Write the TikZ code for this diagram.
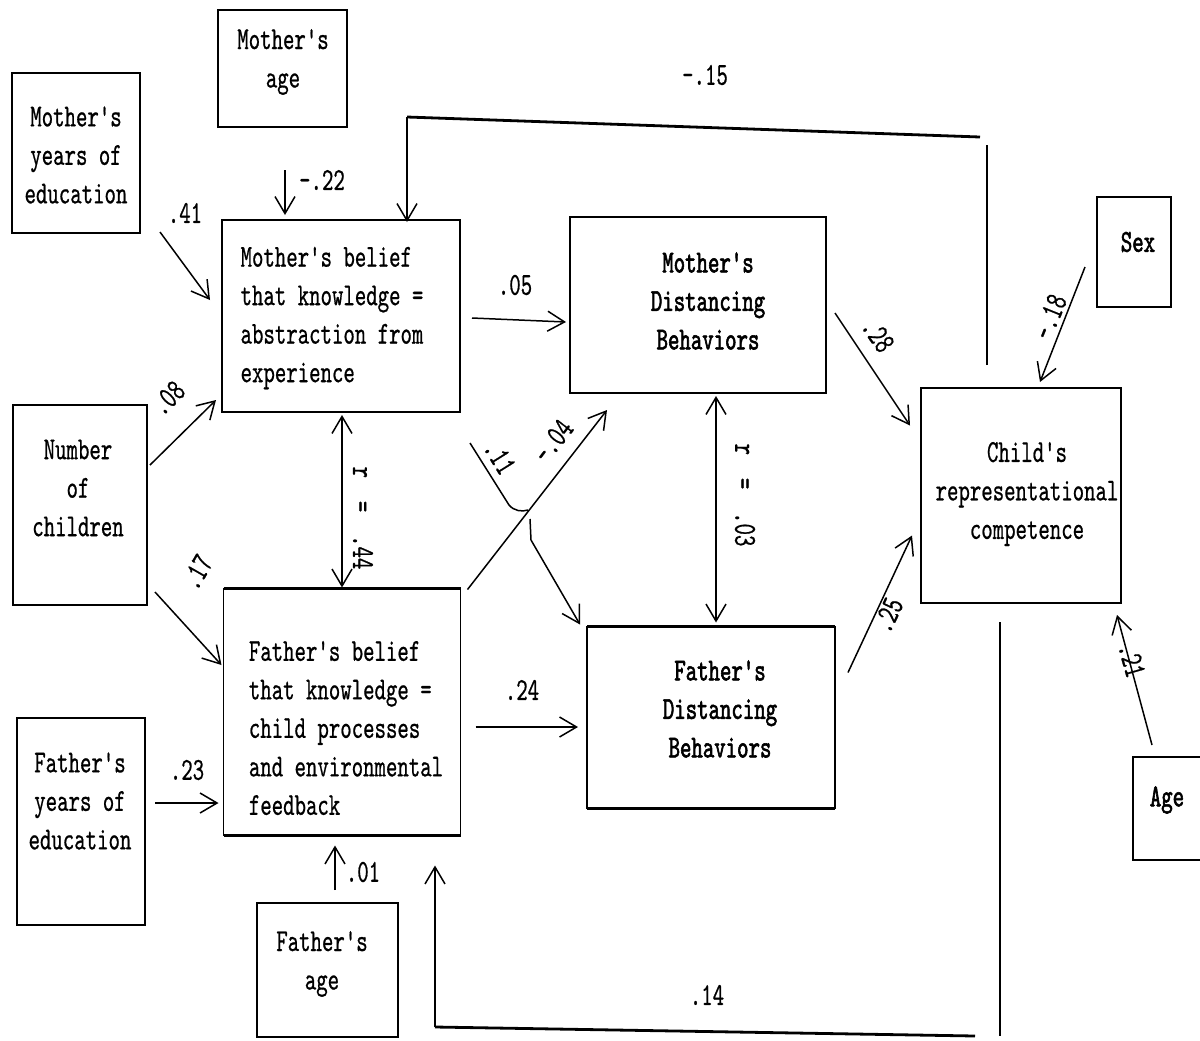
\documentclass[tikz,border=0pt]{standalone}
\usepackage{fontspec}
\newfontfamily\tw{lmmono10-regular.otf}[FakeStretch=0.68,FakeBold=0.6]
\newfontfamily\twb{lmmono10-regular.otf}[FakeStretch=0.68,FakeBold=1.8]
\usetikzlibrary{arrows.meta,calc}
\tikzset{
 box/.style={draw, line width=0.7pt, inner sep=0pt, outer sep=0pt},
 txt/.style={font=\tw\fontsize{16}{19.25}\selectfont, align=center, inner sep=0pt},
 txtb/.style={font=\twb\fontsize{16}{19.25}\selectfont, align=center, inner sep=0pt},
 lab/.style={font=\tw\fontsize{16}{19}\selectfont, inner sep=0pt},
 arr/.style={line width=0.75pt, -{Straight Barb[length=8.5pt,width=10pt]}},
 dbl/.style={line width=0.75pt, {Straight Barb[length=8.5pt,width=10pt]}-{Straight Barb[length=8.5pt,width=10pt]}},
 ln/.style={line width=0.75pt},
 thk/.style={line width=1.4pt},
}
\begin{document}
\begin{tikzpicture}[x=0.5pt,y=-0.5pt]
\fill[white] (0,0) rectangle (1200,1040);
\useasboundingbox (0,0) rectangle (1200,1040);
\clip (0,0) rectangle (1200,1040);
% boxes
\node[box,minimum width=64pt,minimum height=80pt] (medu) at (76,153) {};
\node[box,minimum width=64.5pt,minimum height=58.5pt] (mage) at (282.5,68.5) {};
\node[box,minimum width=119pt,minimum height=96pt] (mbel) at (341,316) {};
\node[box,minimum width=67pt,minimum height=100pt] (nch) at (80,505) {};
\node[box,minimum width=128pt,minimum height=88pt] (mdist) at (698,305) {};
\node[box,minimum width=118.5pt,minimum height=123.5pt] (fbel) at (342,712) {};
\node[box,minimum width=124pt,minimum height=91pt] (fdist) at (711,717.5) {};
\node[box,minimum width=64pt,minimum height=103.5pt] (fedu) at (81,821.5) {};
\node[box,minimum width=70.5pt,minimum height=67pt] (fage) at (327.5,970) {};
\node[box,minimum width=100pt,minimum height=107.5pt] (child) at (1021,495.5) {};
\node[box,minimum width=37pt,minimum height=55pt] (sex) at (1134,252) {};
\node[box,minimum width=41pt,minimum height=51.5pt] (age) at (1174,808.5) {};
\foreach \n in {medu,mage,mbel,nch,mdist,fbel,fdist,fedu,fage,child,sex,age}
  \draw[thk] (\n.north west) -- (\n.north east) (\n.south west) -- (\n.south east);
% texts
\node[txt] (medu-t) at (76,155) {Mother's\\years of\\education};
\node[txt] (mage-t) at (283,62) {Mother's\\age};
\node[txt,align=left] (mbel-t) at (332,318) {Mother's belief\\that knowledge =\\abstraction from\\experience};
\node[txt] (nch-t) at (78,488) {Number\\of\\children};
\node[txtb] (mdist-t) at (708,301) {Mother's\\Distancing\\Behaviors};
\node[txt,align=left] (fbel-t) at (346,728) {Father's belief\\that knowledge =\\child processes\\and environmental\\feedback};
\node[txtb] (fdist-t) at (720,709) {Father's\\Distancing\\Behaviors};
\node[txt] (fedu-t) at (80,801) {Father's\\years of\\education};
\node[txt] (fage-t) at (322,964) {Father's\\age};
\node[txt] (child-t) at (1027,494) {Child's\\representational\\competence};
\node[txtb] (sex-t) at (1138,242) {Sex};
\node[txtb] (age-t) at (1167,800) {Age};
% arrows
\draw[arr] ($(medu.south east)+(20,-1)$) -- ($(mbel.west)+(-12,-16)$);
\draw[arr] ($(mage.south)+(2.5,43)$) -- ($(mbel.north)+(-56,-5)$);
\draw[arr] ($(nch.east)+(3,-40)$) -- ($(mbel.south west)+(-6,-12)$);
\draw[arr] ($(nch.south east)+(8,-13)$) -- ($(fbel.west)+(-2,-47)$);
\draw[arr] ($(fedu.east)+(10,-18.5)$) -- ($(fbel.west)+(-5,91)$);
\draw[arr] ($(fage.north)+(7.5,-13)$) -- ($(fbel.south)+(-7,10)$);
\draw[dbl] ($(mbel.south)+(1,3)$) -- ($(fbel.north)+(0,-1)$);
\draw[arr] ($(mbel.east)+(12,2)$) -- ($(mdist.west)+(-4,17)$);
\coordinate (j0) at ($(mbel.south east)+(10,31)$);
\coordinate (j1) at (509,505);
\coordinate (j2) at (528,510);
\coordinate (j3) at (530,519);
\coordinate (j4) at (531,540);
\draw[ln] (j0) -- (j1) .. controls (514,511) and (522,512) .. (j2);
\draw[arr] (j3) -- (j4) -- ($(fdist.north west)+(-7,-2)$);
\draw[arr] ($(fbel.north east)+(7,1)$) -- ($(mdist.south)+(-91,17)$);
\draw[dbl] ($(mdist.south)+(18,3)$) -- ($(fdist.north)+(5,-4)$);
\draw[arr] ($(fbel.east)+(15,15)$) -- ($(fdist.west)+(-9,9.5)$);
\draw[arr] ($(mdist.east)+(9,8)$) -- ($(child.west)+(-11,-70)$);
\draw[arr] ($(fdist.east)+(13,-45)$) -- ($(child.west)+(-9,40)$);
\draw[arr] ($(sex.west)+(-12,15)$) -- ($(child.north)+(19,-6)$);
\draw[arr] ($(age.north)+(-22,-12)$) -- ($(child.south east)+(-4,12)$);
% feedback -.15
\coordinate (t1) at ($(child.north)+(-34,-23)$);
\coordinate (t2) at (987,145);
\coordinate (t3) at (980,137);
\coordinate (t4) at (407,117);
\draw[ln] (t1) -- (t2);
\draw[thk] (t3) -- (t4);
\draw[arr] (t4) -- ($(mbel.north)+(66,2)$);
% feedback .14
\coordinate (b1) at ($(child.south)+(-21,19)$);
\coordinate (b2) at (1000,1036);
\coordinate (b3) at (975,1036);
\coordinate (b4) at (435,1027);
\draw[ln] (b1) -- (b2);
\draw[thk] (b3) -- (b4);
\draw[arr] (b4) -- ($(fbel.south east)+(-25.5,30)$);
% labels
\node[lab] (l41) at (185,213) {.41};
\node[lab] (l22) at (322,180) {-.22};
\node[lab,rotate=45] (l08) at (168,398) {.08};
\node[lab,rotate=60] (l17) at (197,572) {.17};
\node[lab] (l23) at (187,770) {.23};
\node[lab] (l01) at (363,872) {.01};
\node[lab,rotate=-90] (l44) at (363,518) {r~~=~~.44};
\node[lab] (l05) at (515,285) {.05};
\node[lab,rotate=-58] (l11) at (500,457) {.11};
\node[lab,rotate=52] (l04) at (553,441) {-.04};
\node[lab,rotate=-90] (l03) at (745,495) {r~~=~~.03};
\node[lab] (l24) at (522,690) {.24};
\node[lab,rotate=-55] (l28) at (878,335) {.28};
\node[lab,rotate=65] (l25) at (888,615) {.25};
\node[lab,rotate=68] (l18) at (1050,317) {-.18};
\node[lab,rotate=-74] (l21) at (1132,660) {.21};
\node[lab] (l15) at (705,75) {-.15};
\node[lab] (l14) at (707,995) {.14};
\end{tikzpicture}
\end{document}
